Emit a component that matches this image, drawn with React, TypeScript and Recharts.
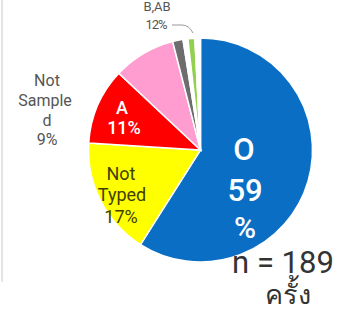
import { PieChart, Pie, Cell } from "recharts";

const categories = ["O", "Not Typed", "A", "Not Sampled", "B", "gap1", "AB", "gap2"];
const values = [59, 17, 11, 9, 1.5, 0.7, 1, 0.8];
const colors = ["#0a6fc4", "#ffff00", "#ff0000", "#ff9dd0", "#6d6d6d", "#ffffff", "#92d050", "#ffffff"];

const data = categories.map((name, i) => ({ name, value: values[i] }));

const FONT = "Roboto, 'Noto Sans', sans-serif";

export default function App() {
  return (
    <div style={{ position: "fixed", left: 0, top: 0, width: 342, height: 314, background: "#fff" }}>
      <div style={{ position: "absolute", left: 1, top: 0, width: 2, height: 282, background: "#e4e4e4" }} />
      <PieChart width={342} height={314}>
        <Pie
          data={data}
          dataKey="value"
          cx={195.5}
          cy={145}
          outerRadius={112}
          startAngle={90}
          endAngle={-270}
          stroke="#ffffff"
          strokeWidth={1.5}
          isAnimationActive={false}
          labelLine={false}
          label={false}
        >
          {data.map((d, i) => (
            <Cell key={d.name} fill={colors[i]} />
          ))}
        </Pie>
      </PieChart>
      {/* labels drawn on top of the pie */}
      <svg width={342} height={314} style={{ position: "absolute", left: 0, top: 0, pointerEvents: "none" }}>
        <g fontFamily={FONT} textAnchor="middle" dominantBaseline="central">
          <text x={244} y={149} fontSize={31} fill="#ffffff" fontWeight={500}>O</text>
          <text x={245} y={190} fontSize={31} fill="#ffffff" fontWeight={500}>59</text>
          <text x={245} y={227} fontSize={30} fill="#ffffff" fontWeight={500}>%</text>

          <text x={121} y={173} fontSize={18} fill="#404000">Not</text>
          <text x={122} y={194} fontSize={18} fill="#404000">Typed</text>
          <text x={121} y={216} fontSize={18} fill="#404000">17%</text>

          <text x={122} y={107} fontSize={18} fill="#ffffff" fontWeight={500}>A</text>
          <text x={124} y={127} fontSize={18} fill="#ffffff" fontWeight={500}>11%</text>

          <text x={47} y={80} fontSize={16} fill="#555555">Not</text>
          <text x={45} y={100} fontSize={16} fill="#555555">Sample</text>
          <text x={47} y={120} fontSize={16} fill="#555555">d</text>
          <text x={47} y={139} fontSize={16} fill="#555555">9%</text>

          <text x={157} y={6} fontSize={13} fill="#555555">B,AB</text>
          <text x={156} y={24} fontSize={13} fill="#555555" letterSpacing={-1}>12%</text>

          <text x={283} y={262} fontSize={31} fill="#333333">n = 189</text>
          <text x={288} y={295} fontSize={27} fill="#333333">ครั้ง</text>
        </g>
        <path d="M172,25 L182,25 Q189,25 193,33" fill="none" stroke="#999999" strokeWidth={1} />
      </svg>
    </div>
  );
}
